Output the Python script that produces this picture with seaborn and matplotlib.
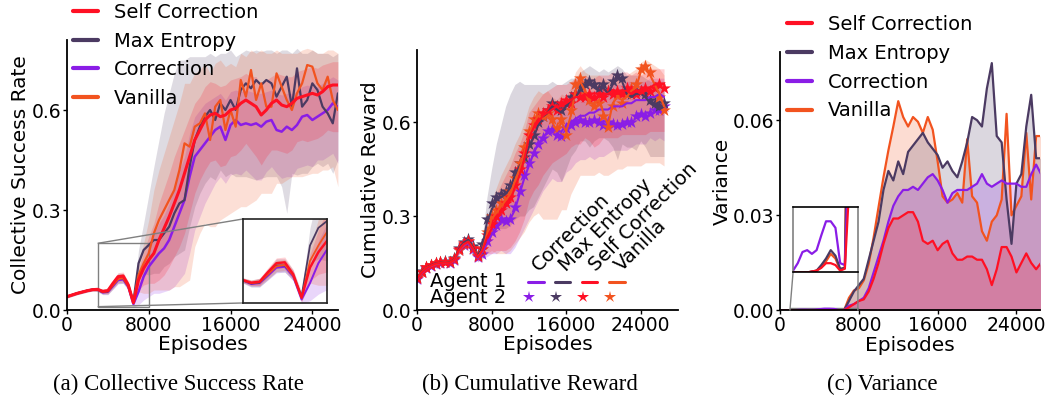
import numpy as np
import matplotlib
matplotlib.use("Agg")
import matplotlib.pyplot as plt
import seaborn as sns
from mpl_toolkits.axes_grid1.inset_locator import mark_inset

# ---------------- data ----------------
EPISODES = list(range(0, 27000, 500))  # 0 .. 26500
X_TICKS = [0, 8000, 16000, 24000]
METHODS = ["Self Correction", "Max Entropy", "Correction", "Vanilla"]
COLORS = {"Self Correction": "#ff1024", "Max Entropy": "#4b3a62",
          "Correction": "#8a1de6", "Vanilla": "#f2531f"}

# (a) Collective success rate: mean, band above, band below
SC_A = [0.040,0.045,0.050,0.054,0.058,0.061,0.062,0.056,0.058,0.080,0.100,0.102,0.075,0.022,0.090,0.125,
        0.150,0.170,0.210,0.245,0.280,0.320,0.360,0.410,0.460,0.510,0.540,0.570,0.585,0.590,0.580,0.585,
        0.600,0.605,0.620,0.630,0.620,0.610,0.585,0.600,0.620,0.630,0.615,0.610,0.620,0.635,0.640,0.645,
        0.650,0.645,0.655,0.670,0.675,0.675]
ME_A = [0.040,0.045,0.050,0.054,0.058,0.061,0.061,0.054,0.056,0.075,0.095,0.095,0.073,0.025,0.140,0.180,
        0.195,0.210,0.210,0.230,0.250,0.290,0.320,0.330,0.430,0.510,0.550,0.580,0.600,0.570,0.620,0.600,
        0.630,0.600,0.660,0.680,0.665,0.690,0.675,0.690,0.680,0.640,0.670,0.700,0.610,0.725,0.610,0.630,
        0.680,0.660,0.610,0.590,0.560,0.650]
COR_A = [0.040,0.045,0.050,0.054,0.058,0.061,0.061,0.053,0.055,0.072,0.090,0.092,0.070,0.018,0.055,0.100,
         0.130,0.150,0.170,0.185,0.210,0.250,0.290,0.330,0.400,0.460,0.480,0.500,0.520,0.540,0.550,0.510,
         0.555,0.570,0.555,0.560,0.555,0.560,0.550,0.565,0.570,0.540,0.535,0.550,0.540,0.555,0.580,0.585,
         0.570,0.580,0.590,0.600,0.620,0.610]
VAN_A = [0.040,0.045,0.050,0.054,0.058,0.061,0.061,0.055,0.057,0.075,0.093,0.096,0.072,0.022,0.105,0.140,
         0.170,0.230,0.270,0.300,0.330,0.360,0.420,0.500,0.490,0.550,0.560,0.590,0.510,0.610,0.630,0.540,
         0.600,0.550,0.690,0.640,0.720,0.630,0.680,0.610,0.610,0.710,0.670,0.630,0.600,0.650,0.680,0.735,
         0.730,0.680,0.660,0.700,0.630,0.600]

SC_A_UP = [.004,.004,.004,.004,.004,.004,.005,.006,.008,.010,.012,.012,.010,.008,.030,.050,
           .070,.090,.110,.120,.130,.140,.140,.130,.120,.110,.100,.100,.100,.090,.090,.090,
           .090,.090,.080,.080,.080,.090,.090,.090,.080,.080,.090,.090,.080,.080,.080,.080,
           .080,.080,.080,.070,.070,.070]
SC_A_DN = [.004,.004,.004,.004,.004,.004,.005,.006,.008,.010,.012,.012,.010,.008,.030,.050,
           .070,.090,.120,.140,.150,.160,.170,.180,.170,.160,.150,.150,.140,.140,.150,.150,
           .140,.140,.140,.130,.140,.150,.150,.140,.140,.150,.140,.140,.140,.130,.130,.140,
           .140,.130,.130,.130,.140,.140]
ME_A_UP = [.004,.004,.004,.004,.004,.004,.006,.008,.010,.012,.015,.015,.012,.010,.040,.080,
           .150,.220,.300,.360,.400,.420,.430,.420,.330,.250,.210,.180,.170,.190,.150,.170,
           .150,.160,.110,.100,.110,.090,.100,.090,.100,.130,.110,.080,.160,.060,.160,.140,
           .100,.110,.160,.180,.200,.120]
ME_A_DN = [.004,.004,.004,.004,.004,.004,.006,.008,.010,.012,.015,.015,.012,.010,.040,.070,
           .090,.100,.100,.100,.110,.130,.150,.150,.180,.200,.200,.200,.200,.180,.200,.200,
           .220,.200,.260,.280,.270,.300,.280,.290,.280,.240,.300,.410,.200,.320,.200,.220,
           .250,.220,.180,.150,.150,.200]
COR_A_UP = [.004,.004,.004,.004,.004,.004,.005,.006,.008,.010,.012,.012,.010,.008,.030,.050,
            .060,.080,.090,.100,.110,.120,.130,.130,.130,.120,.120,.120,.110,.100,.100,.120,
            .100,.090,.100,.100,.100,.090,.100,.090,.090,.110,.110,.100,.110,.100,.090,.090,
            .100,.090,.090,.090,.080,.080]
COR_A_DN = [.004,.004,.004,.004,.004,.004,.005,.006,.008,.010,.012,.012,.010,.010,.040,.070,
            .090,.100,.120,.130,.150,.180,.200,.220,.230,.220,.200,.180,.170,.160,.150,.130,
            .150,.160,.150,.140,.150,.170,.160,.150,.140,.130,.140,.150,.140,.130,.150,.150,
            .140,.130,.140,.140,.150,.170]
VAN_A_UP = [.004,.004,.004,.004,.004,.004,.005,.006,.008,.010,.012,.012,.010,.008,.030,.060,
            .100,.130,.150,.170,.190,.210,.200,.180,.190,.160,.160,.150,.200,.130,.120,.190,
            .140,.180,.080,.120,.060,.140,.100,.160,.160,.070,.100,.140,.170,.120,.100,.050,
            .050,.090,.110,.080,.150,.170]
VAN_A_DN = [.004,.004,.004,.004,.004,.004,.005,.006,.008,.010,.012,.012,.010,.010,.050,.090,
            .120,.170,.210,.240,.270,.290,.350,.420,.400,.360,.330,.330,.260,.360,.360,.260,
            .310,.250,.380,.330,.400,.300,.330,.260,.260,.330,.290,.240,.200,.250,.280,.330,
            .320,.270,.240,.280,.200,.230]

# (b) Cumulative reward: agent 1 (lines), agent 2 (stars), band offsets
SC_B1 = [0.100,0.120,0.133,0.142,0.148,0.150,0.152,0.150,0.160,0.192,0.210,0.218,0.195,0.168,
         0.190,0.230,0.260,0.290,0.310,0.330,0.350,0.390,0.430,0.480,0.550,0.580,0.600,0.620,0.630,0.640,
         0.650,0.650,0.660,0.670,0.680,0.680,0.690,0.680,0.670,0.680,0.690,0.690,0.700,0.690,0.700,0.700,
         0.690,0.700,0.690,0.700,0.710,0.720,0.720,0.720]
SC_B2 = [0.103,0.122,0.136,0.144,0.150,0.152,0.154,0.152,0.163,0.195,0.213,0.221,0.198,0.171,
         0.195,0.240,0.275,0.300,0.320,0.340,0.360,0.400,0.450,0.500,0.560,0.590,0.610,0.630,0.640,0.650,
         0.640,0.660,0.670,0.660,0.690,0.680,0.680,0.690,0.680,0.690,0.680,0.700,0.690,0.700,0.690,0.710,
         0.700,0.690,0.700,0.710,0.700,0.710,0.720,0.710]
ME_B1 = [0.102,0.122,0.135,0.143,0.149,0.151,0.153,0.151,0.162,0.195,0.215,0.224,0.200,0.172,
         0.200,0.280,0.320,0.350,0.360,0.370,0.390,0.430,0.460,0.480,0.520,0.550,0.590,0.610,0.630,0.650,
         0.640,0.630,0.650,0.670,0.680,0.700,0.710,0.720,0.710,0.700,0.710,0.690,0.720,0.740,0.730,0.690,
         0.680,0.690,0.690,0.680,0.660,0.650,0.640,0.650]
ME_B2 = [0.104,0.124,0.137,0.145,0.151,0.153,0.155,0.153,0.165,0.198,0.218,0.227,0.203,0.175,
         0.210,0.290,0.340,0.360,0.370,0.380,0.400,0.440,0.470,0.490,0.530,0.560,0.600,0.620,0.640,0.660,
         0.650,0.640,0.660,0.680,0.690,0.710,0.720,0.730,0.720,0.710,0.720,0.700,0.730,0.750,0.740,0.700,
         0.690,0.700,0.700,0.690,0.670,0.660,0.650,0.660]
COR_B1 = [0.098,0.118,0.132,0.140,0.146,0.149,0.151,0.149,0.158,0.188,0.205,0.214,0.192,0.165,
          0.185,0.210,0.240,0.260,0.280,0.280,0.290,0.320,0.370,0.420,0.460,0.500,0.530,0.550,0.570,0.580,
          0.570,0.570,0.590,0.600,0.610,0.620,0.620,0.630,0.630,0.640,0.640,0.640,0.650,0.650,0.650,0.660,
          0.660,0.670,0.670,0.670,0.680,0.680,0.690,0.680]
COR_B2 = [0.100,0.120,0.134,0.142,0.148,0.151,0.153,0.151,0.161,0.191,0.208,0.217,0.195,0.168,
          0.180,0.220,0.250,0.270,0.290,0.285,0.290,0.330,0.380,0.430,0.470,0.500,0.530,0.550,0.570,0.575,
          0.560,0.555,0.580,0.590,0.600,0.605,0.600,0.600,0.605,0.600,0.590,0.600,0.595,0.590,0.595,0.600,
          0.600,0.620,0.625,0.620,0.630,0.640,0.640,0.650]
VAN_B1 = [0.100,0.120,0.134,0.141,0.147,0.150,0.152,0.150,0.160,0.190,0.208,0.218,0.196,0.168,
          0.190,0.240,0.290,0.310,0.330,0.350,0.370,0.410,0.450,0.500,0.560,0.600,0.620,0.610,0.620,0.600,
          0.570,0.600,0.570,0.620,0.700,0.730,0.700,0.660,0.660,0.670,0.630,0.590,0.660,0.680,0.670,0.680,
          0.700,0.710,0.760,0.770,0.750,0.720,0.690,0.650]
VAN_B2 = [0.102,0.122,0.136,0.143,0.149,0.152,0.154,0.152,0.163,0.193,0.211,0.221,0.199,0.171,
          0.195,0.250,0.300,0.320,0.340,0.360,0.380,0.420,0.470,0.520,0.570,0.610,0.630,0.620,0.630,0.610,
          0.580,0.610,0.560,0.640,0.720,0.740,0.690,0.670,0.650,0.660,0.620,0.585,0.650,0.690,0.660,0.690,
          0.710,0.720,0.770,0.780,0.760,0.710,0.680,0.640]

SC_B_UP = [.008,.008,.008,.008,.008,.008,.008,.008,.010,.012,.012,.012,.012,.012,
           .020,.040,.060,.080,.090,.100,.110,.110,.100,.090,.080,.070,.070,.070,.070,.070,
           .070,.070,.060,.060,.060,.060,.060,.060,.070,.070,.060,.060,.060,.060,.060,.060,
           .060,.060,.060,.060,.060,.050,.050,.050]
SC_B_DN = [.008,.008,.008,.008,.008,.008,.008,.008,.010,.012,.012,.012,.012,.012,
           .020,.050,.080,.100,.120,.140,.150,.170,.180,.190,.200,.200,.200,.190,.180,.170,
           .170,.160,.160,.150,.150,.150,.140,.140,.150,.150,.140,.140,.150,.140,.140,.140,
           .130,.140,.130,.140,.140,.150,.150,.150]
ME_B_UP = [.008,.008,.008,.008,.008,.008,.008,.008,.010,.012,.012,.012,.012,.012,
           .030,.080,.130,.180,.230,.280,.300,.290,.270,.240,.200,.170,.130,.110,.090,.080,
           .080,.090,.080,.070,.060,.060,.060,.060,.060,.060,.060,.070,.050,.040,.040,.060,
           .070,.060,.060,.060,.070,.080,.090,.080]
ME_B_DN = [.008,.008,.008,.008,.008,.008,.008,.008,.010,.012,.012,.012,.012,.012,
           .020,.060,.080,.090,.100,.110,.120,.140,.160,.180,.200,.220,.230,.220,.210,.200,
           .200,.220,.200,.180,.170,.160,.170,.200,.170,.150,.160,.150,.200,.260,.200,.170,
           .160,.180,.150,.160,.170,.160,.150,.160]
COR_B_UP = [.008,.008,.008,.008,.008,.008,.008,.008,.010,.012,.012,.012,.012,.012,
            .020,.040,.060,.080,.090,.100,.110,.110,.110,.100,.090,.090,.090,.080,.080,.080,
            .080,.080,.070,.070,.070,.070,.070,.070,.070,.070,.070,.070,.070,.070,.070,.070,
            .070,.060,.060,.060,.060,.060,.050,.060]
COR_B_DN = [.008,.008,.008,.008,.008,.008,.008,.008,.010,.012,.012,.012,.012,.012,
            .020,.040,.060,.080,.090,.100,.110,.120,.140,.160,.170,.180,.180,.170,.170,.160,
            .160,.160,.150,.150,.140,.140,.140,.140,.150,.150,.150,.140,.140,.140,.140,.150,
            .140,.140,.140,.140,.130,.140,.140,.140]
VAN_B_UP = [.008,.008,.008,.008,.008,.008,.008,.008,.010,.012,.012,.012,.012,.012,
            .020,.040,.060,.080,.100,.110,.120,.120,.110,.100,.090,.080,.080,.080,.080,.080,
            .100,.090,.110,.090,.060,.050,.060,.090,.090,.080,.110,.140,.080,.070,.070,.070,
            .060,.060,.030,.030,.040,.060,.080,.100]
VAN_B_DN = [.008,.008,.008,.008,.008,.008,.008,.008,.010,.012,.012,.012,.012,.012,
            .030,.060,.100,.130,.150,.170,.180,.200,.220,.250,.280,.300,.310,.320,.330,.310,
            .280,.280,.250,.250,.300,.300,.270,.230,.230,.230,.200,.160,.220,.230,.220,.220,
            .240,.250,.300,.300,.280,.250,.220,.190]

# (c) Variance
SC_C = [0.0,0.0,0.0,0.0,0.0,0.0,0.00001,0.00002,0.00005,0.00010,0.00010,0.00008,0.00002,0.00004,
        0.001,0.002,0.003,0.0035,0.006,0.010,0.015,0.021,0.026,0.029,0.029,0.030,0.031,0.031,0.028,0.022,
        0.021,0.022,0.019,0.021,0.022,0.018,0.016,0.016,0.017,0.017,0.016,0.016,0.013,0.008,0.013,0.020,
        0.020,0.017,0.012,0.015,0.018,0.015,0.013,0.015]
ME_C = [0.0,0.0,0.0,0.0,0.0,0.0,0.00001,0.00002,0.00008,0.00015,0.00024,0.00018,0.00004,0.00005,
        0.003,0.006,0.008,0.010,0.016,0.022,0.028,0.038,0.044,0.041,0.047,0.043,0.050,0.052,0.054,0.056,
        0.053,0.051,0.049,0.045,0.047,0.044,0.042,0.047,0.053,0.061,0.060,0.058,0.070,0.078,0.055,0.053,
        0.035,0.021,0.040,0.043,0.058,0.068,0.048,0.048]
COR_C = [0.0,0.0,0.00002,0.00010,0.00022,0.00024,0.00020,0.00024,0.00040,0.00055,0.00055,0.00048,0.00010,0.00008,
         0.0015,0.002,0.003,0.004,0.007,0.012,0.017,0.022,0.028,0.033,0.036,0.038,0.038,0.039,0.038,0.040,
         0.042,0.043,0.041,0.038,0.034,0.037,0.038,0.038,0.038,0.039,0.040,0.043,0.040,0.039,0.040,0.041,
         0.040,0.040,0.040,0.039,0.039,0.043,0.046,0.043]
VAN_C = [0.0,0.0,0.0,0.0,0.0,0.0,0.00001,0.00002,0.00006,0.00012,0.00020,0.00015,0.00003,0.00005,
         0.004,0.0063,0.007,0.0095,0.0147,0.023,0.0326,0.042,0.0505,0.058,0.066,0.061,0.058,0.061,0.0595,0.056,
         0.061,0.057,0.047,0.036,0.034,0.035,0.037,0.034,0.054,0.036,0.034,0.025,0.022,0.028,0.030,0.035,
         0.062,0.030,0.033,0.036,0.056,0.035,0.055,0.055]

A_MEAN = {"Self Correction": SC_A, "Max Entropy": ME_A, "Correction": COR_A, "Vanilla": VAN_A}
A_UP = {"Self Correction": SC_A_UP, "Max Entropy": ME_A_UP, "Correction": COR_A_UP, "Vanilla": VAN_A_UP}
A_DN = {"Self Correction": SC_A_DN, "Max Entropy": ME_A_DN, "Correction": COR_A_DN, "Vanilla": VAN_A_DN}
B1 = {"Self Correction": SC_B1, "Max Entropy": ME_B1, "Correction": COR_B1, "Vanilla": VAN_B1}
B2 = {"Self Correction": SC_B2, "Max Entropy": ME_B2, "Correction": COR_B2, "Vanilla": VAN_B2}
B_UP = {"Self Correction": SC_B_UP, "Max Entropy": ME_B_UP, "Correction": COR_B_UP, "Vanilla": VAN_B_UP}
B_DN = {"Self Correction": SC_B_DN, "Max Entropy": ME_B_DN, "Correction": COR_B_DN, "Vanilla": VAN_B_DN}
C_VAR = {"Self Correction": SC_C, "Max Entropy": ME_C, "Correction": COR_C, "Vanilla": VAN_C}

# ---------------- style ----------------
sns.set_theme(style="ticks", rc={"text.color": "black", "axes.labelcolor": "black",
                                 "xtick.color": "black", "ytick.color": "black",
                                 "axes.edgecolor": "black"})
plt.rcParams["font.family"] = ["DejaVu Sans"]
plt.rcParams["axes.linewidth"] = 1.3
FS_TICK = 13.5
FS_LAB = 14.5
FS_LEG = 14

fig = plt.figure(figsize=(10.51, 4.0), dpi=100)
axA = fig.add_axes([0.0637, 0.225, 0.2578, 0.675])
axB = fig.add_axes([0.3968, 0.225, 0.2483, 0.65])
axC = fig.add_axes([0.7422, 0.2238, 0.2474, 0.6462])

x = np.array(EPISODES)
draw_order = ["Correction", "Max Entropy", "Vanilla", "Self Correction"]
LW = {"Self Correction": 2.2, "Max Entropy": 1.6, "Correction": 1.8, "Vanilla": 1.6}


def draw_a(ax, lwscale=1.0):
    for m in draw_order:
        mean = np.array(A_MEAN[m])
        ax.fill_between(x, mean - np.array(A_DN[m]), mean + np.array(A_UP[m]),
                        color=COLORS[m], alpha=0.18, lw=0)
    for m in draw_order:
        sns.lineplot(x=x, y=A_MEAN[m], ax=ax, color=COLORS[m], lw=LW[m] * lwscale,
                     legend=False)


def draw_c(ax, fill=True):
    for m in ["Vanilla", "Max Entropy", "Correction", "Self Correction"]:
        y = np.array(C_VAR[m])
        if fill:
            ax.fill_between(x, 0, y, color=COLORS[m], alpha=0.2, lw=0)
        sns.lineplot(x=x, y=y, ax=ax, color=COLORS[m], lw=1.6, legend=False)


def style(ax, ylabel, yticks, yfmt):
    sns.despine(ax=ax)
    ax.set_xticks(X_TICKS)
    ax.set_yticks(yticks)
    ax.set_yticklabels([yfmt.format(v) for v in yticks])
    ax.tick_params(labelsize=FS_TICK, length=3, width=1, pad=1)
    ax.set_xlabel("Episodes", fontsize=FS_LAB, labelpad=0.5)
    ax.set_ylabel(ylabel, fontsize=FS_LAB, labelpad=1)


legend_kw = dict(loc="upper left", frameon=False, fontsize=FS_LEG, handlelength=1.3,
                 handletextpad=0.8, labelspacing=0.5, borderpad=0, borderaxespad=0)
handles = [plt.Line2D([], [], color=COLORS[m], lw=3) for m in METHODS]

# ---- (a) ----
draw_a(axA)
axA.set_xlim(0, 26500)
axA.set_ylim(0, 0.81)
style(axA, "Collective Success Rate", [0.0, 0.3, 0.6], "{:.1f}")
insA = axA.inset_axes([0.649, 0.026, 0.31, 0.311])
draw_a(insA, 0.8)
insA.set_xlim(3000, 8000)
insA.set_ylim(0.01, 0.2)
insA.set_xticks([]); insA.set_yticks([])
insA.set_xlabel(""); insA.set_ylabel("")
for s in insA.spines.values():
    s.set_color("#222222"); s.set_linewidth(1.2); s.set_visible(True)
mark_inset(axA, insA, loc1=2, loc2=3, fc="none", ec="0.5", lw=1.0)
fig.legend(handles, METHODS, bbox_to_anchor=(0.0695, 0.993), **legend_kw)

# ---- (b) ----
for m in draw_order:
    mean = np.array(B1[m])
    axB.fill_between(x, mean - np.array(B_DN[m]), mean + np.array(B_UP[m]),
                     color=COLORS[m], alpha=0.2, lw=0)
for m in draw_order:
    sns.lineplot(x=x, y=B1[m], ax=axB, color=COLORS[m], lw=1.5, legend=False)
    sns.scatterplot(x=x, y=B2[m], ax=axB, color=COLORS[m], marker="*", s=95,
                    linewidth=0, legend=False)
axB.set_xlim(0, 28000)
axB.set_ylim(0, 0.83)
style(axB, "Cumulative Reward", [0.0, 0.3, 0.6], "{:.1f}")
# custom legend (row labels, keys, rotated column headers)
tr = axB.transAxes
axB.text(0.05, 0.079, "Agent 1\nAgent 2", transform=tr, fontsize=FS_LEG, va="center",
         ha="left", linespacing=0.78)
order_b = ["Correction", "Max Entropy", "Self Correction", "Vanilla"]
dash_x = [0.456, 0.558, 0.661, 0.766]
star_x = [0.428, 0.533, 0.636, 0.741]
head_x = [0.468, 0.572, 0.684, 0.786]
for m, dx, sx, hx in zip(order_b, dash_x, star_x, head_x):
    axB.plot([dx - 0.03, dx + 0.03], [0.109, 0.109], color=COLORS[m], lw=2.2,
             transform=tr, clip_on=False)
    axB.plot([sx], [0.05], marker="*", ms=9, mew=0, color=COLORS[m], transform=tr,
             clip_on=False, ls="")
    axB.text(hx, 0.146, m, transform=tr, rotation=45, rotation_mode="anchor",
             ha="left", va="baseline", fontsize=FS_LEG)

# ---- (c) ----
draw_c(axC)
axC.set_xlim(0, 26400)
axC.set_ylim(0, 0.0815)
style(axC, "Variance", [0.0, 0.03, 0.06], "{:.2f}")
insC = axC.inset_axes([0.05, 0.147, 0.25, 0.252])
draw_c(insC, fill=False)
insC.set_xlim(1000, 7900)
insC.set_ylim(0, 0.0007)
insC.set_xticks([]); insC.set_yticks([])
insC.set_xlabel(""); insC.set_ylabel("")
for k, s in insC.spines.items():
    s.set_visible(True)
    s.set_linewidth(1.2)
    s.set_color("black" if k in ("top", "bottom") else "0.5")
mark_inset(axC, insC, loc1=3, loc2=4, fc="none", ec="0.5", lw=1.0)
fig.legend(handles, METHODS, bbox_to_anchor=(0.749, 0.962), **legend_kw)

# captions
cap_kw = dict(ha="center", va="center", fontsize=16.5, family=["Liberation Serif"])
fig.text(178 / 1051, 1 - 384 / 400, "(a) Collective Success Rate", **cap_kw)
fig.text(530 / 1051, 1 - 384 / 400, "(b) Cumulative Reward", **cap_kw)
fig.text(882 / 1051, 1 - 384 / 400, "(c) Variance", **cap_kw)

fig.savefig("out.png", dpi=100)
